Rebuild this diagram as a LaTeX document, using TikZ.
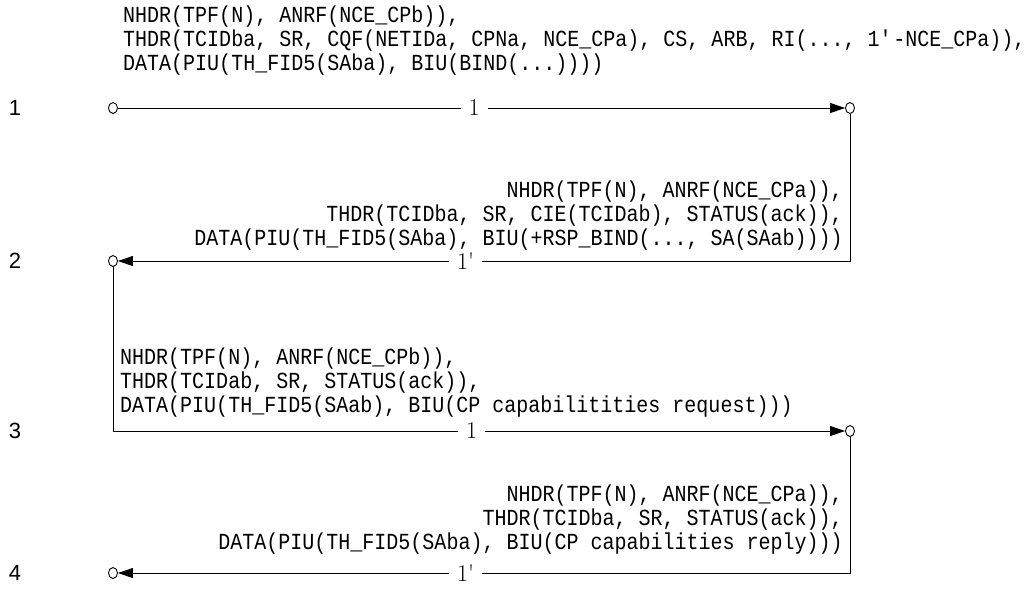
\documentclass[tikz,border=0pt]{standalone}
\usepackage{fontspec}
\newfontfamily\msgfont[FakeStretch=0.87]{Liberation Mono}
\newfontfamily\rowfont{Liberation Sans}
\usetikzlibrary{arrows.meta}
\tikzset{
  msg/.style={font=\msgfont\fontsize{23}{24}\selectfont, inner sep=0pt},
  msgL/.style={msg, anchor=base west},
  msgR/.style={msg, anchor=base east},
  rownum/.style={font=\rowfont\fontsize{22}{24}\selectfont, inner sep=0pt},
  term/.style={ellipse, draw, line width=0.9pt, minimum width=9pt, minimum height=11pt, inner sep=0pt},
  wire/.style={line width=0.8pt},
  arr/.style={wire, -{Triangle[length=15pt,width=10pt]}},
  lbl/.style={fill=white, inner xsep=8pt, inner ysep=2pt, font=\fontsize{24}{24}\selectfont}
}
\usetikzlibrary{shapes.geometric}
\newcommand{\sq}{\textquotesingle}
\begin{document}
\begin{tikzpicture}[x=1pt,y=-1pt]
\useasboundingbox (0,0) rectangle (1036,590);
% row numbers
\node[rownum] (r1) at (15,108) {1};
\node[rownum] (r2) at (15,261) {2};
\node[rownum] (r3) at (15,431) {3};
\node[rownum] (r4) at (15,573) {4};
% terminals
\node[term] (o1L) at (113,108) {};
\node[term] (o1R) at (850,108) {};
\node[term] (o2L) at (113,261) {};
\node[term] (o3R) at (850,431) {};
\node[term] (o4L) at (113,573) {};
\coordinate (c2R) at (850,261);
\coordinate (c3L) at (113,431);
\coordinate (c4R) at (850,573);
% messages
\node[msgL] (m1a) at (123,22) {NHDR(TPF(N), ANRF(NCE\_CPb)),};
\node[msgL] (m1b) at (123,46) {THDR(TCIDba, SR, CQF(NETIDa, CPNa, NCE\_CPa), CS, ARB, RI(..., 1\sq-NCE\_CPa)),};
\node[msgL] (m1c) at (123,70) {DATA(PIU(TH\_FID5(SAba), BIU(BIND(...))))};
\node[msgR] (m2a) at (843,197) {NHDR(TPF(N), ANRF(NCE\_CPa)),};
\node[msgR] (m2b) at (843,221) {THDR(TCIDba, SR, CIE(TCIDab), STATUS(ack)),};
\node[msgR] (m2c) at (843,245) {DATA(PIU(TH\_FID5(SAba), BIU(+RSP\_BIND(..., SA(SAab))))};
\node[msgL] (m3a) at (120,364) {NHDR(TPF(N), ANRF(NCE\_CPb)),};
\node[msgL] (m3b) at (120,388) {THDR(TCIDab, SR, STATUS(ack)),};
\node[msgL] (m3c) at (120,412) {DATA(PIU(TH\_FID5(SAab), BIU(CP capabilitities request)))};
\node[msgR] (m4a) at (843,501) {NHDR(TPF(N), ANRF(NCE\_CPa)),};
\node[msgR] (m4b) at (843,525) {THDR(TCIDba, SR, STATUS(ack)),};
\node[msgR] (m4c) at (843,549) {DATA(PIU(TH\_FID5(SAba), BIU(CP capabilities reply)))};
% connectors
\draw[arr] (o1L) -- node[lbl, pos=0.49] (l1) {1} (o1R);
\draw[arr] (o1R) -- (c2R) -- node[lbl, pos=0.525] (l2) {1\sq} (o2L);
\draw[arr] (o2L) -- (c3L) -- node[lbl, pos=0.49] (l3) {1} (o3R);
\draw[arr] (o3R) -- (c4R) -- node[lbl, pos=0.525] (l4) {1\sq} (o4L);
\end{tikzpicture}
\end{document}
